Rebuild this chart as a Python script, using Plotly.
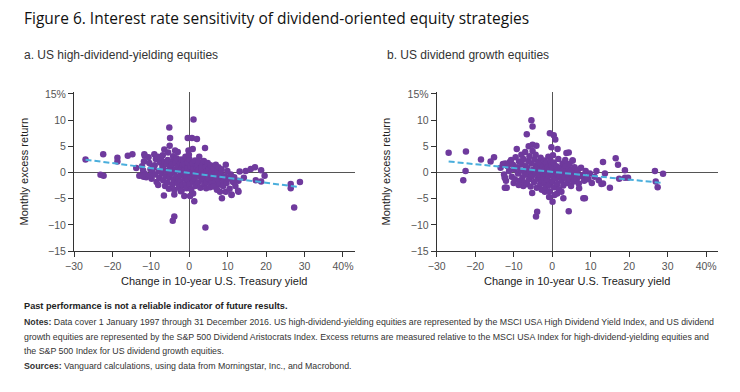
import plotly.graph_objects as go

# ---------------- data ----------------
# (change in 10-year Treasury yield %, monthly excess return %)
hy_points = [
    (-27.0, 2.5), (-22.4, 3.5), (-23.1, -0.45), (-22.3, -0.6), (-18.7, 2.8), (-18.7, 2.1),
    (-16.0, 3.2), (-14.8, 3.5), (-13.8, 0.85), (-13.0, -0.6), (-11.9, -0.8), (-11.2, -0.9),
    (-11.6, 3.2), (-9.1, 3.5), (-5.2, 8.6), (-5.0, 6.6), (-5.1, 5.1), (1.1, 10.1), (-0.4, 6.6),
    (0.7, 6.6), (2.0, 6.4), (-0.2, 4.2), (0.9, 4.5), (4.1, 4.7), (-6.5, 4.4), (-3.7, 4.2),
    (9.5, 1.5), (13.1, 0.2), (14.7, 0.3), (16.0, 0.65), (17.1, 1.0), (18.7, 0.45), (19.6, -0.6),
    (17.3, -1.5), (18.7, -1.7), (11.2, -1.1), (12.8, -1.6), (14.2, -1.0), (26.4, -2.2),
    (26.4, -3.0), (28.8, -1.8), (27.3, -6.7), (-6.6, -4.4), (-3.9, -4.2), (-2.2, -3.6),
    (-1.3, -4.5), (0.2, -4.5), (1.0, -4.0), (1.3, -5.5), (-3.9, -8.4), (-4.3, -9.2),
    (4.2, -10.5), (8.5, -4.9), (11.0, -4.3), (12.8, -3.7), (9.5, -3.7), (8.0, -3.7),
    (-12.3, 1.2), (-11.8, 2.1), (-11.5, -0.3), (-12.0, 0.4),
    (-10.4, 1.8), (-10.1, 0.6), (-9.8, -1.2), (-10.6, 2.9), (-9.6, 0.1), (-10.2, -0.6),
    (-9.0, 1.4), (-8.7, 2.6), (-8.9, -0.4), (-8.5, -1.8), (-9.3, 0.9), (-8.2, 3.0),
    (-7.9, 0.3), (-7.6, 1.9), (-7.8, -1.0), (-8.1, -2.4), (-7.4, 2.8), (-7.2, -0.2),
    (-7.0, 1.1), (-6.8, -1.5), (-6.6, 0.5), (-6.9, 3.3), (-6.3, -2.6), (-6.5, 2.0), (-6.1, -0.7),
    (-5.9, 1.6), (-5.7, -1.9), (-5.8, 0.2), (-5.5, 3.8), (-5.3, -3.1), (-5.6, 2.4), (-5.2, -0.9),
    (-5.0, 1.0), (-4.8, -0.3), (-4.6, 2.1), (-4.4, -2.3), (-4.7, 0.7), (-4.2, 3.1), (-4.1, -1.4),
    (-4.5, 1.5), (-3.9, -3.3), (-3.8, 0.2), (-3.6, 1.9), (-3.4, -0.8), (-3.3, 2.7), (-3.1, -2.0),
    (-3.5, 0.6), (-2.9, 1.2), (-2.8, -1.3), (-3.0, 3.9), (-2.7, -2.9), (-2.5, 0.3), (-2.4, 1.8),
    (-2.2, -0.5), (-2.3, -1.7), (-2.1, 2.5), (-1.9, 0.9), (-1.8, -2.4), (-2.0, -3.5), (-1.7, 1.4),
    (-1.5, -0.2), (-1.4, 2.2), (-1.2, -1.1), (-1.3, 0.6), (-1.0, 3.0), (-0.9, -2.1), (-1.1, 1.5),
    (-0.8, -0.6), (-0.7, -3.0), (-0.5, 0.8), (-0.4, 1.9), (-0.3, -1.4), (-0.2, -0.3), (0.0, 2.6),
    (0.1, -2.3), (0.2, 0.4), (0.3, 1.2), (0.4, -0.9), (-0.1, 3.4), (0.5, -3.2), (0.7, 0.0),
    (0.9, 1.7), (1.0, -1.7), (1.2, 0.7), (1.3, -0.5), (1.5, 2.3), (1.6, -2.6), (1.8, 1.1),
    (1.4, -1.2), (2.0, -0.2), (2.2, 1.5), (2.3, -1.9), (2.5, 0.5), (2.6, 3.0), (2.8, -0.8),
    (2.9, -2.9), (2.4, 2.0), (3.1, 0.2), (3.3, 1.3), (3.4, -1.4), (3.6, -0.3), (3.8, 2.2),
    (3.9, -2.2), (3.2, 0.9), (4.1, -0.6), (4.3, 1.0), (4.5, -1.8), (4.6, 0.3), (4.8, 1.8),
    (4.9, -1.1), (4.4, -3.0), (5.1, 0.6), (5.3, -0.4), (5.5, 1.4), (5.7, -2.0), (5.8, 0.1),
    (5.4, -2.8), (6.1, -1.0), (6.3, 0.8), (6.5, -0.3), (6.7, -1.8), (6.9, 1.5), (6.4, -2.7),
    (7.1, -0.6), (7.3, 0.4), (7.5, -1.4), (7.8, -2.3), (7.6, 1.0), (7.2, -3.3), (8.2, -0.2),
    (8.5, -1.0), (8.8, -2.6), (8.4, 0.6), (8.9, -1.7), (9.3, -0.7), (9.7, -2.0), (10.2, -1.2),
    (10.5, -3.1), (10.8, -0.4), (9.9, 0.3), (11.4, -1.8), (12.0, -2.6), (11.7, -0.9),
    (-11.7, 3.5), (-12.1, -0.6), (11.0, -4.2), (12.7, -3.5),
]

dg_points = [
    (-26.9, 3.75), (-22.4, 4.0), (-22.5, 0.27), (-23.1, -1.5), (-18.5, 2.5), (-16.0, 2.1),
    (-15.1, 2.9), (-12.2, 1.7), (-11.0, 2.0), (-12.1, -2.9), (-5.4, 10.0), (-5.1, 8.8),
    (-6.6, 7.3), (-6.1, 5.0), (-5.1, 5.3), (-4.1, 5.1), (-9.2, 4.5), (-0.6, 7.5), (0.4, 7.1),
    (0.8, 6.3), (-0.2, 4.8), (1.4, 4.5), (3.7, 3.7), (4.3, 3.8), (13.2, 2.0), (16.5, 2.7),
    (17.1, 1.5), (18.9, 0.45), (13.7, -0.2), (13.2, -2.1), (15.0, -2.9), (17.4, -1.2),
    (18.9, -1.0), (19.7, -1.0), (26.7, 0.27), (28.8, -0.25), (26.9, -1.7), (27.4, -2.8),
    (-5.2, -3.9), (-4.2, -8.4), (-3.9, -7.5), (-0.8, -4.7), (0.1, -5.6), (1.3, -4.0),
    (2.9, -4.9), (4.3, -7.4), (8.1, -4.9), (8.5, -4.9), (2.4, -3.7), (-1.9, -3.7),
    (-7.5, -2.6), (-6.6, -2.2), (5.3, 2.3), (11.5, 0.3), (9.4, -1.3),
    (-13.4, 0.9), (-12.8, 1.6), (-12.5, -0.4), (-12.3, -1.0), (-12.0, -1.6), (-11.8, -2.9),
    (-11.6, 1.2), (-11.2, 0.3), (-12.3, -2.9), (-10.7, 2.4), (-10.5, -0.8), (-10.2, 1.5),
    (-10.0, -2.0), (-9.8, 0.6), (-9.5, 2.9), (-9.7, -1.3), (-9.1, 1.0), (-8.9, -0.2),
    (-8.6, 2.1), (-8.4, -1.6), (-8.2, 0.4), (-8.0, 3.4), (-8.7, -2.4), (-7.9, 1.6),
    (-7.7, -0.9), (-7.5, 2.6), (-7.3, 0.2), (-7.1, -1.9), (-6.9, 1.2), (-7.0, 3.9),
    (-6.7, -0.4), (-6.6, -2.2), (-6.4, 0.8), (-6.2, 2.2), (-6.0, -1.3), (-5.8, 0.1),
    (-5.9, 3.1), (-5.6, -2.7), (-5.4, 1.7), (-5.3, -0.7), (-5.1, 4.1), (-4.9, 0.5),
    (-4.7, -1.8), (-4.6, 2.5), (-4.4, -0.2), (-4.2, 1.3), (-4.0, -2.9), (-4.3, 3.4),
    (-3.9, 0.9), (-3.8, -1.2), (-3.6, 2.0), (-3.4, -0.5), (-3.3, 0.4), (-3.1, -2.2),
    (-2.9, 1.5), (-3.0, 2.8), (-2.8, -1.5), (-2.7, -3.3), (-2.6, 0.0), (-2.4, 1.1),
    (-2.3, -0.9), (-2.1, 2.3), (-1.9, -2.0), (-2.0, 0.5), (-1.8, -0.3), (-1.6, 1.8),
    (-1.7, -2.8), (-1.4, 0.2), (-1.3, -1.3), (-1.1, 1.0), (-0.9, -0.6), (-1.0, 3.0),
    (-0.8, -2.4), (-0.6, 0.7), (-0.5, 2.2), (-0.7, -3.6), (-0.3, -0.1), (-0.2, 1.4),
    (0.0, -1.7), (0.1, 0.6), (0.2, 3.3), (0.3, -0.8), (0.5, -2.8), (0.4, 1.9), (0.6, -4.3),
    (0.8, 0.1), (1.0, -1.1), (1.1, 1.2), (1.3, -2.2), (1.5, 0.5), (1.6, 2.6), (1.4, -0.4),
    (1.8, -3.2), (2.0, -0.7), (2.2, 0.9), (2.4, -1.6), (2.5, 0.2), (2.7, 1.7), (2.9, -2.5),
    (2.6, -0.3), (3.1, 0.6), (3.3, -1.0), (3.5, 1.3), (3.7, -0.2), (3.9, -2.0), (3.4, 2.4),
    (4.2, -0.5), (4.4, 0.7), (4.6, -1.4), (4.8, 0.2), (4.9, -2.6), (4.5, 1.6), (5.2, -0.8),
    (5.4, 0.4), (5.6, -1.7), (5.8, 1.0), (5.3, 2.3), (6.1, -0.3), (6.4, -1.2), (6.7, 0.5),
    (6.9, -2.1), (7.2, -0.7), (7.5, 0.9), (7.0, -3.0), (8.0, -0.5), (8.3, -1.6), (8.7, 0.3),
    (9.1, -1.0), (9.8, -0.2), (10.3, -2.0), (11.0, -0.8), (12.1, -1.5),
    (-12.3, -1.0), (12.8, -2.2),
]

hy_trend_x = [-27.0, 28.5]
hy_trend_y = [2.45, -2.76]
dg_trend_x = [-26.9, 28.7]
dg_trend_y = [2.1, -2.0]

x_tickvals = [-30, -20, -10, 0, 10, 20, 30, 40]
x_ticktext = ["\u221230", "\u221220", "\u221210", "0", "10", "20", "30", "40%"]
y_tickvals = [-15, -10, -5, 0, 5, 10, 15]
y_ticktext = ["\u221215", "\u221210", "\u22125", "0", "5", "10", "15%"]

title = "Figure 6. Interest rate sensitivity of dividend-oriented equity strategies"
panel_titles = ["a. US high-dividend-yielding equities", "b. US dividend growth equities"]
x_title = "Change in 10-year U.S. Treasury yield"
y_title = "Monthly excess return"
disclaimer = "<b>Past performance is not a reliable indicator of future results.</b>"
footnotes = [
    "<b>Notes:</b> Data cover 1 January 1997 through 31 December 2016. US high-dividend-yielding equities are represented by the MSCI USA High Dividend Yield Index, and US dividend",
    "growth equities are represented by the S&P 500 Dividend Aristocrats Index. Excess returns are measured relative to the MSCI USA Index for high-dividend-yielding equities and",
    "the S&P 500 Index for US dividend growth equities.",
    "<b>Sources:</b> Vanguard calculations, using data from Morningstar, Inc., and Macrobond.",
]

# ---------------- figure ----------------
W, H = 740, 392
PURPLE = "#6F3A9D"
BLUE = "#4AAEDC"
FONT = "Liberation Sans, Arial, sans-serif"
TITLE_FONT = "Open Sans, Liberation Sans, Arial, sans-serif"

fig = go.Figure()
for i, (pts, tx, ty) in enumerate([(hy_points, hy_trend_x, hy_trend_y),
                                   (dg_points, dg_trend_x, dg_trend_y)]):
    xa = "x" if i == 0 else "x2"
    ya = "y" if i == 0 else "y2"
    fig.add_trace(go.Scatter(
        x=[p[0] for p in pts], y=[p[1] for p in pts], mode="markers",
        marker=dict(color=PURPLE, size=6.5, line=dict(width=0)),
        xaxis=xa, yaxis=ya, showlegend=False, hoverinfo="skip"))
    fig.add_trace(go.Scatter(
        x=tx, y=ty, mode="lines",
        line=dict(color=BLUE, width=2, dash="6px,3px"),
        xaxis=xa, yaxis=ya, showlegend=False, hoverinfo="skip"))

def px_x(p):
    return p / W

def px_y(p):
    return 1 - p / H

ydom = [px_y(251), px_y(92.4)]
common_x = dict(range=[-30, 43], tickvals=x_tickvals, ticktext=x_ticktext,
                showgrid=False, showline=True, linecolor="#333", linewidth=1,
                ticks="outside", ticklen=5, tickcolor="#333",
                zeroline=True, zerolinecolor="#555", zerolinewidth=1,
                tickfont=dict(family=FONT, size=10.5, color="#555"),
                title=dict(text=x_title, font=dict(family=FONT, size=11, color="#222"), standoff=6),
                automargin=False, fixedrange=True)
common_y = dict(range=[-15, 15.3], tickvals=y_tickvals, ticktext=y_ticktext,
                showgrid=False, showline=True, linecolor="#333", linewidth=1,
                ticks="outside", ticklen=5, tickcolor="#333",
                zeroline=True, zerolinecolor="#555", zerolinewidth=1,
                tickfont=dict(family=FONT, size=10.5, color="#555"),
                title=dict(text=y_title, font=dict(family=FONT, size=11, color="#222"), standoff=14),
                domain=ydom, automargin=False, fixedrange=True)

fig.update_layout(
    width=W, height=H, autosize=False,
    margin=dict(l=0, r=0, t=0, b=0, pad=0),
    paper_bgcolor="white", plot_bgcolor="white",
    xaxis=dict(common_x, domain=[px_x(74), px_x(354.5)], anchor="y"),
    yaxis=dict(common_y, anchor="x"),
    xaxis2=dict(common_x, domain=[px_x(436.7), px_x(717.7)], anchor="y2"),
    yaxis2=dict(common_y, anchor="x2"),
)

ann = []
ann.append(dict(text=title, x=px_x(22), y=px_y(18), xref="paper", yref="paper",
                xanchor="left", yanchor="middle", showarrow=False,
                font=dict(family=TITLE_FONT, size=15.5, color="#111")))
ann.append(dict(text=panel_titles[0], x=px_x(22), y=px_y(55), xref="paper", yref="paper",
                xanchor="left", yanchor="middle", showarrow=False,
                font=dict(family=FONT, size=12, color="#333")))
ann.append(dict(text=panel_titles[1], x=px_x(385), y=px_y(55), xref="paper", yref="paper",
                xanchor="left", yanchor="middle", showarrow=False,
                font=dict(family=FONT, size=12, color="#333")))
ann.append(dict(text=disclaimer, x=px_x(22), y=px_y(306), xref="paper", yref="paper",
                xanchor="left", yanchor="middle", showarrow=False, align="left",
                font=dict(family=FONT, size=9.2, color="#222")))
foot_y = [322, 337, 351, 366]
for t, yy in zip(footnotes, foot_y):
    ann.append(dict(text=t, x=px_x(22), y=px_y(yy), xref="paper", yref="paper",
                    xanchor="left", yanchor="middle", showarrow=False, align="left",
                    font=dict(family=FONT, size=8.8, color="#333")))
fig.update_layout(annotations=ann)

fig.write_html("out.html", post_script="document.body.style.margin='0';",
               config={"displayModeBar": False, "staticPlot": True})
